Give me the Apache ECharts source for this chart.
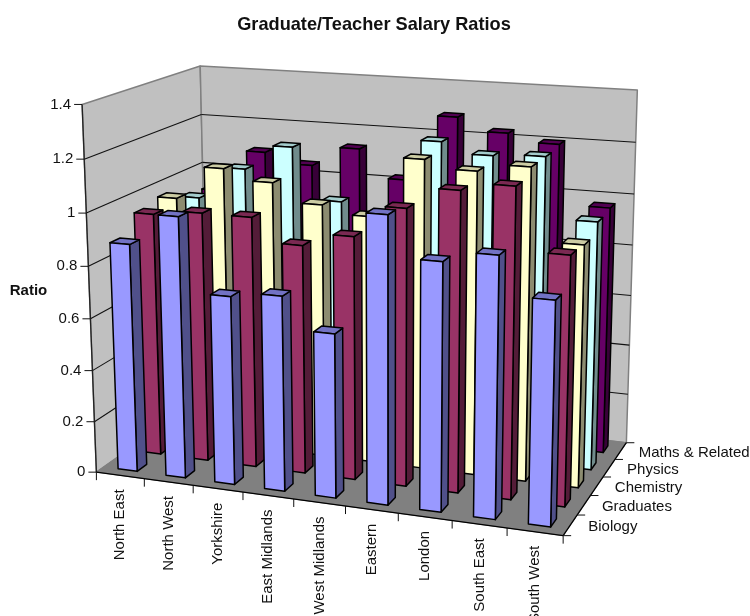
<!DOCTYPE html>
<html><head><meta charset="utf-8"><style>html,body{margin:0;background:#fff}#c{width:750px;height:616px}</style>
<script src="https://cdn.jsdelivr.net/npm/echarts@6/dist/echarts.min.js"></script></head>
<body><div id="c"></div><script>
var categories=['North East','North West','Yorkshire','East Midlands','West Midlands','Eastern','London','South East','South West'];
var seriesNames=['Biology','Graduates','Chemistry','Physics','Maths & Related'];
var yTicks=[0,0.2,0.4,0.6,0.8,1,1.2,1.4];
var biology=[0.88,1.00,0.72,0.74,0.62,1.07,0.92,0.96,0.82];
var graduates=[0.95,0.97,0.97,0.88,0.93,1.05,1.13,1.16,0.93];
var chemistry=[0.97,1.10,1.06,0.99,0.96,1.19,1.16,1.19,0.92];
var physics=[0.93,1.06,1.16,0.96,0.90,1.22,1.18,1.19,0.96];
var maths=[0.92,1.09,1.05,1.13,1.02,1.28,1.23,1.20,0.97];
var values=[biology,graduates,chemistry,physics,maths];
var faces=[['#9999FF','#50508A','#7272C4'],['#993366','#541C38','#7A2952'],['#FFFFCC','#8C8C70','#CCCCA3'],['#CCFFFF','#708C8C','#A3CCCC'],['#660066','#380038','#520052']];
// Reference points of the 3D box: unit-cube position -> page position; fitted to one projective camera.
var A=[[0,0,0,96,472.3],[0,1,0,81.7,104],[0,1,1,199.3,65.7],[1,1,1,638.3,90],[1,0,1,625.7,442.3],[1,0,0,562.3,536],
[0,6/7,0,85,159],[0,5/7,0,86.7,213.3],[0,4/7,0,88.3,266.7],[0,3/7,0,90,318.3],[0,2/7,0,93.3,370.7],[0,1/7,0,95,421.7],
[0,6/7,1,201.7,114.3],[0,5/7,1,202.7,162.7],[1,6/7,1,636,142.3],[1,5/7,1,634,194.3],[1,4/7,1,632,245.3],[1,3/7,1,630,295.7],[1,2/7,1,628,345],[1,1/7,1,627,394.3],
[1/9,0,0,144,479.3],[3/9,0,0,242.7,492],[5/9,0,0,345,506],[7/9,0,0,451.7,520],[1,0,.2,577.3,515],[1,0,.4,590.7,495.7],[1,0,.8,619.3,459]];
function solve(M,b){var n=b.length,i,j,k;M=M.map(function(r,i){return r.concat(b[i]);});
for(i=0;i<n;i++){var p=i;for(j=i+1;j<n;j++)if(Math.abs(M[j][i])>Math.abs(M[p][i]))p=j;var t=M[i];M[i]=M[p];M[p]=t;
for(j=i+1;j<n;j++){var f=M[j][i]/M[i][i];for(k=i;k<=n;k++)M[j][k]-=f*M[i][k];}}
var x=[];for(i=n-1;i>=0;i--){var s=M[i][n];for(k=i+1;k<n;k++)s-=M[i][k]*x[k];x[i]=s/M[i][i];}return x;}
var N=[],B=[],ii,jj;for(ii=0;ii<11;ii++){N.push(new Array(11).fill(0));B.push(0);}
A.forEach(function(a){var X=a[0],Y=a[1],Z=a[2],u=a[3],v=a[4];
[[X,Y,Z,1,0,0,0,0,-u*X,-u*Y,-u*Z,u],[0,0,0,0,X,Y,Z,1,-v*X,-v*Y,-v*Z,v]].forEach(function(r){
for(ii=0;ii<11;ii++){for(jj=0;jj<11;jj++)N[ii][jj]+=r[ii]*r[jj];B[ii]+=r[ii]*r[11];}});});
var H=solve(N,B);
function P(X,Y,Z){var w=H[8]*X+H[9]*Y+H[10]*Z+1;return [(H[0]*X+H[1]*Y+H[2]*Z+H[3])/w,(H[4]*X+H[5]*Y+H[6]*Z+H[7])/w];}
var FONT='"Liberation Sans",Arial,sans-serif',INK='#111';
function line(a,b,c,w){return {type:'line',shape:{x1:a[0],y1:a[1],x2:b[0],y2:b[1]},style:{stroke:c,lineWidth:w},silent:true};}
function poly(pts,fill,st,w){return {type:'polygon',shape:{points:pts},style:{fill:fill,stroke:st,lineWidth:w,lineJoin:'round'},silent:true};}
function txt(s,x,y,o){return {type:'text',x:x,y:y,rotation:o.rot||0,silent:true,style:{text:s,x:0,y:0,fill:INK,font:o.font,align:o.align,verticalAlign:'middle'}};}
function frame(){var c=[];
c.push(poly([P(0,0,0),P(0,1,0),P(0,1,1),P(0,0,1)],'#C0C0C0','#808080',1.5));
c.push(poly([P(0,0,1),P(0,1,1),P(1,1,1),P(1,0,1)],'#C0C0C0','#808080',1.5));
yTicks.forEach(function(t){var Y=t/1.4;if(t>0&&t<1.4){c.push(line(P(0,Y,0),P(0,Y,1),'#111',1.1));c.push(line(P(0,Y,1),P(1,Y,1),'#111',1.1));}});
c.push(poly([P(0,0,0),P(0,0,1),P(1,0,1),P(1,0,0)],'#808080','#808080',1));
c.push(line(P(0,0,0),P(0,1,0),'#222',1.3));
c.push(line(P(0,0,0),P(1,0,0),'#000',1.3));
c.push(line(P(1,0,0),P(1,0,1),'#000',1.3));
yTicks.forEach(function(t){var p=P(0,t/1.4,0);c.push(line(p,[p[0]-8,p[1]],'#111',1));
c.push(txt(String(t),p[0]-11,p[1],{font:'15px '+FONT,align:'right'}));});
categories.forEach(function(n,i){var p=P((i+.5)/9,0,0);c.push(txt(n,p[0],p[1]+14,{font:'15px '+FONT,align:'right',rot:Math.PI/2}));});
for(var i=0;i<=9;i++){var p=P(i/9,0,0);c.push(line(p,[p[0],p[1]+8],'#111',1));}
for(var s=0;s<=5;s++){var q=P(1,0,s/5);c.push(line(q,[q[0]+8,q[1]],'#111',1));}
seriesNames.forEach(function(n,s){var q=P(1,0,(s+.5)/5);c.push(txt(n,q[0]+18,q[1]+1.5,{font:'15px '+FONT,align:'left'}));});
c.push(txt('Ratio',28.5,291,{font:'bold 15px '+FONT,align:'center'}));
c.push(txt('Graduate/Teacher Salary Ratios',374,25,{font:'bold 18.2px '+FONT,align:'center'}));
return {type:'group',children:c};}
function bars(s){return function(params,api){
var r=params.coordSys,c=api.coord([api.value(0),api.value(1)]);
var cx=(c[0]-r.x)/r.width,Y=(r.y+r.height-c[1])/r.height,hw=.2/9,z0=(s+.3)/5,z1=(s+.7)/5,x0=cx-hw,x1=cx+hw,f=faces[s];
return {type:'group',children:[
poly([P(x1,0,z0),P(x1,Y,z0),P(x1,Y,z1),P(x1,0,z1)],f[1],'#000',1.5),
poly([P(x0,Y,z0),P(x0,Y,z1),P(x1,Y,z1),P(x1,Y,z0)],f[2],'#000',1.5),
poly([P(x0,0,z0),P(x0,Y,z0),P(x1,Y,z0),P(x1,0,z0)],f[0],'#000',1.5)]};};}
var series=[{type:'custom',silent:true,data:[[0,0]],renderItem:function(){return frame();}}];
for(var s=4;s>=0;s--){series.push({type:'custom',name:seriesNames[s],silent:true,encode:{x:0,y:1},
data:values[s].map(function(v,i){return [i,v];}),renderItem:bars(s)});}
var chart=echarts.init(document.getElementById('c'),null,{renderer:'canvas'});
chart.setOption({animation:false,backgroundColor:'#fff',
grid:{left:0,right:0,top:0,bottom:0},
xAxis:{type:'category',data:categories,show:false},
yAxis:{type:'value',min:0,max:1.4,show:false},
series:series});
</script></body></html>
